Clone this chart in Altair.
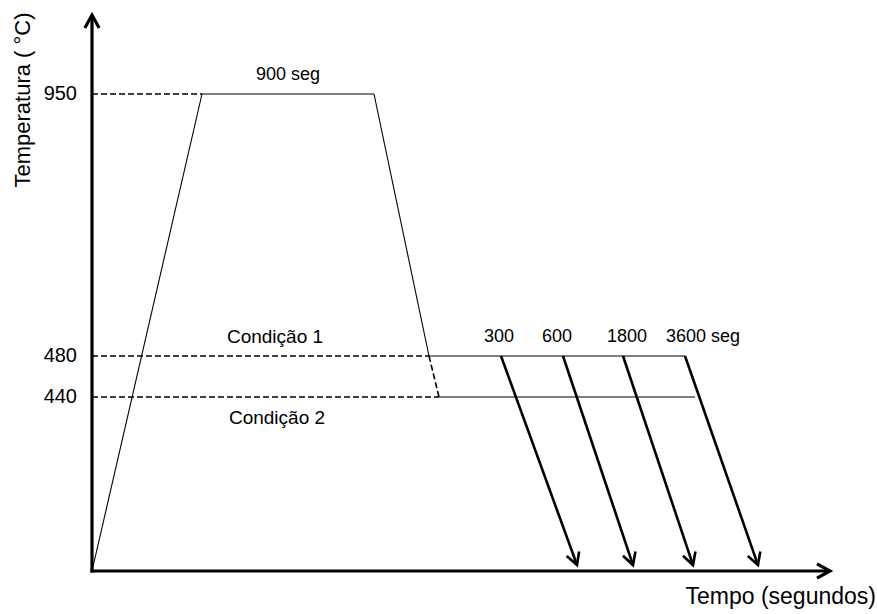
import math
import altair as alt
import numpy as np
import pandas as pd

# Heat-treatment schedule, drawn as a schematic (time axis not to scale).
# Temperatures in °C; time positions in arbitrary schematic units.
T_AUST = 950
T_COND1 = 480
T_COND2 = 440
T_QUENCH_END = 15
T_AXIS_TOP = 1060

t_heat_end = 110
t_hold_end = 282
t_cool1 = 337
t_cool2 = 347
t_cond1_end = 593
t_cond2_end = 603
t_axis_end = 738

temp_ticks = [950, 480, 440]
hold_labels = ["300", "600", "1800", "3600 seg"]
quench_start = [409, 471, 531, 593]
quench_end = [485, 541, 601, 666]
hold_label_t = [407, 465, 535, 611]

# Piecewise scales: the temperature axis is schematic, stretched around 440-480 °C
x_domain = [0, t_axis_end]
x_range = [92, 830]
y_domain = [0, 440, 480, 950, T_AXIS_TOP]
y_range = [571, 397, 356, 94, 15]

FONT = "Liberation Sans"

xs = alt.Scale(domain=x_domain, range=x_range, nice=False, zero=False)
ys = alt.Scale(domain=y_domain, range=y_range, nice=False, zero=False)


def seg_table(rows):
    return pd.DataFrame(rows, columns=["x", "y", "x2", "y2"])


def rules(df, **style):
    return alt.Chart(df).mark_rule(color="black", **style).encode(
        x=alt.X("x:Q", scale=xs, axis=None),
        y=alt.Y("y:Q", scale=ys, axis=None),
        x2="x2:Q",
        y2="y2:Q",
    )


# thin solid profile: heating, soaking, cooling and the two isothermal holds
profile = seg_table([
    (0, 0, t_heat_end, T_AUST),
    (t_heat_end, T_AUST, t_hold_end, T_AUST),
    (t_hold_end, T_AUST, t_cool1, T_COND1),
    (t_cool1, T_COND1, t_cond1_end, T_COND1),
    (t_cool2, T_COND2, t_cond2_end, T_COND2),
])

# dashed guide lines to the temperature axis and the extra cooling to 440 °C
guides = seg_table([
    (0, T_AUST, t_heat_end, T_AUST),
    (0, T_COND1, t_cool1, T_COND1),
    (0, T_COND2, t_cool2, T_COND2),
    (t_cool1, T_COND1, t_cool2, T_COND2),
])

# quench lines after each holding time
quench = seg_table([
    (s, T_COND1, e, T_QUENCH_END) for s, e in zip(quench_start, quench_end)
])

axes_lines = seg_table([
    (0, 0, 0, T_AXIS_TOP - 3),
    (0, 0, t_axis_end - 2, 0),
])


# arrowhead orientation follows the drawn direction of each line
def px_x(v):
    return np.interp(v, x_domain, x_range)


def px_y(v):
    return np.interp(v, y_domain, y_range)


def head_angle(x0, y0, x1, y1):
    dx = px_x(x1) - px_x(x0)
    dy = px_y(y1) - px_y(y0)
    n = math.hypot(dx, dy)
    return math.degrees(math.atan2(-dx / n, dy / n)) % 360


heads_quench = pd.DataFrame({
    "x": quench_end,
    "y": [T_QUENCH_END] * len(quench_end),
    "angle": [head_angle(s, T_COND1, e, T_QUENCH_END) for s, e in zip(quench_start, quench_end)],
})
heads_axes = pd.DataFrame({
    "x": [0, t_axis_end],
    "y": [T_AXIS_TOP, 0],
    "angle": [head_angle(0, 0, 0, T_AXIS_TOP), head_angle(0, 0, t_axis_end, 0)],
})

CHEVRON = "M-0.55,-1L0,0L0.55,-1"


def heads(df, width, size):
    return alt.Chart(df).mark_point(
        shape=CHEVRON, filled=False, color="black", strokeWidth=width,
        size=size, opacity=1, strokeJoin="miter",
    ).encode(
        x=alt.X("x:Q", scale=xs, axis=None),
        y=alt.Y("y:Q", scale=ys, axis=None),
        angle=alt.Angle("angle:Q", scale=None),
    )


# temperature tick labels, set just left of the temperature axis
tick_df = pd.DataFrame({"x": [0] * len(temp_ticks), "y": temp_ticks,
                        "label": [str(v) for v in temp_ticks]})
tick_text = alt.Chart(tick_df).mark_text(
    align="right", baseline="middle", font=FONT, fontSize=20, color="black", dx=-15
).encode(
    x=alt.X("x:Q", scale=xs, axis=None),
    y=alt.Y("y:Q", scale=ys, axis=None),
    text="label:N",
)

# annotations above the 950 °C soak and the 480 °C hold
ann_above = pd.DataFrame({
    "x": [(t_heat_end + t_hold_end) / 2, 183] + hold_label_t,
    "y": [T_AUST, T_COND1] + [T_COND1] * len(hold_labels),
    "label": ["900 seg", "Condição 1"] + hold_labels,
    "size": [18, 19] + [18] * len(hold_labels),
})
ann_above_text = alt.Chart(ann_above).mark_text(
    align="center", baseline="middle", font=FONT, color="black", dy=-19
).encode(
    x=alt.X("x:Q", scale=xs, axis=None),
    y=alt.Y("y:Q", scale=ys, axis=None),
    size=alt.Size("size:Q", scale=None, legend=None),
    text="label:N",
)

ann_below = pd.DataFrame({"x": [185], "y": [T_COND2], "label": ["Condição 2"]})
ann_below_text = alt.Chart(ann_below).mark_text(
    align="center", baseline="middle", font=FONT, fontSize=19, color="black", dy=21
).encode(
    x=alt.X("x:Q", scale=xs, axis=None),
    y=alt.Y("y:Q", scale=ys, axis=None),
    text="label:N",
)

# axis titles
y_title = alt.Chart(pd.DataFrame({"label": ["Temperatura ( °C)"]})).mark_text(
    align="center", baseline="middle", font=FONT, fontSize=22, angle=270, color="black"
).encode(x=alt.value(23), y=alt.value(100), text="label:N")

x_title = alt.Chart(pd.DataFrame({"label": ["Tempo (segundos)"]})).mark_text(
    align="right", baseline="alphabetic", font=FONT, fontSize=23, color="black"
).encode(x=alt.value(876), y=alt.value(604), text="label:N")

chart = alt.layer(
    rules(guides, strokeWidth=1.6, strokeDash=[6, 3]),
    rules(profile, strokeWidth=1.1),
    rules(quench, strokeWidth=2.6),
    rules(axes_lines, strokeWidth=3.2, strokeCap="square"),
    heads(heads_quench, 2.6, 576),
    heads(heads_axes, 3.2, 676),
    tick_text,
    ann_above_text,
    ann_below_text,
    y_title,
    x_title,
).properties(
    width=877, height=614, padding=0, autosize="none", background="white"
).configure_view(stroke=None)

chart.save("out.html", embed_options={"renderer": "svg", "actions": False})
